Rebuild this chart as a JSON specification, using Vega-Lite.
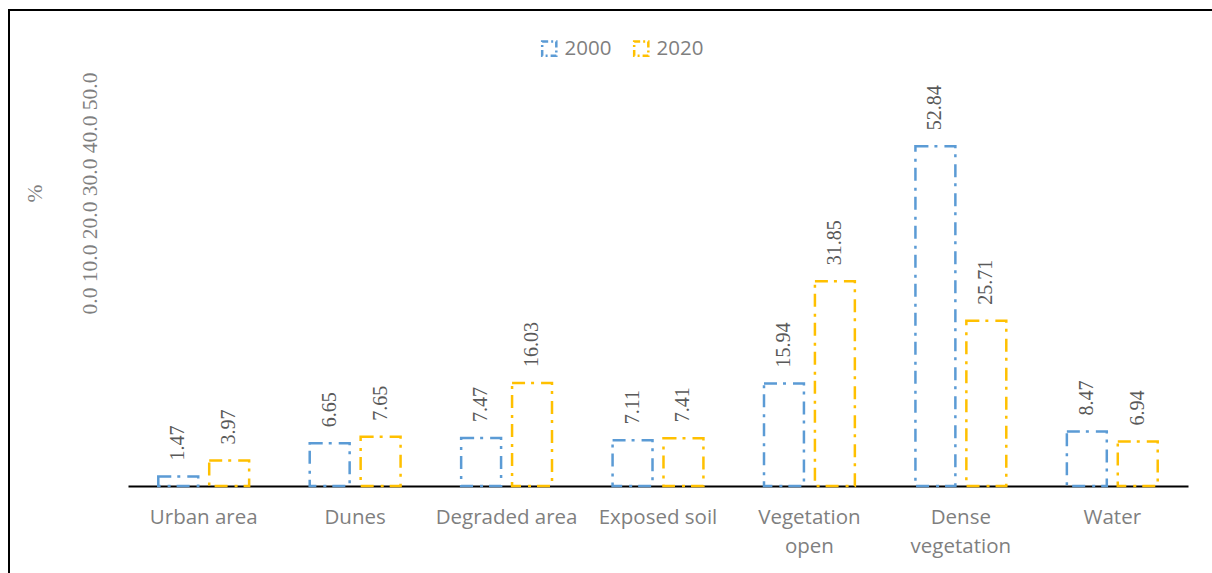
{
  "$schema": "https://vega.github.io/schema/vega-lite/v6.json",
  "width": 1215,
  "height": 575,
  "autosize": {"type": "none"},
  "padding": {"left": 9, "top": 10, "right": 0, "bottom": 0},
  "background": "white",
  "config": {"view": {"stroke": "black", "strokeWidth": 2}},
  "data": {
    "values": [
      {"category": "Urban area", "year": "2000", "value": 1.47},
      {"category": "Urban area", "year": "2020", "value": 3.97},
      {"category": "Dunes", "year": "2000", "value": 6.65},
      {"category": "Dunes", "year": "2020", "value": 7.65},
      {"category": "Degraded area", "year": "2000", "value": 7.47},
      {"category": "Degraded area", "year": "2020", "value": 16.03},
      {"category": "Exposed soil", "year": "2000", "value": 7.11},
      {"category": "Exposed soil", "year": "2020", "value": 7.41},
      {"category": "Vegetation open", "year": "2000", "value": 15.94},
      {"category": "Vegetation open", "year": "2020", "value": 31.85},
      {"category": "Dense vegetation", "year": "2000", "value": 52.84},
      {"category": "Dense vegetation", "year": "2020", "value": 25.71},
      {"category": "Water", "year": "2000", "value": 8.47},
      {"category": "Water", "year": "2020", "value": 6.94}
    ]
  },
  "encoding": {
    "x": {
      "field": "category",
      "type": "nominal",
      "sort": ["Urban area", "Dunes", "Degraded area", "Exposed soil", "Vegetation open", "Dense vegetation", "Water"],
      "scale": {"range": [119, 1179], "paddingInner": 0.4, "paddingOuter": 0.2},
      "axis": {
        "title": null,
        "orient": "bottom",
        "offset": -99,
        "domainColor": "black",
        "domainWidth": 2,
        "ticks": false,
        "grid": false,
        "labelAngle": 0,
        "labelFont": "Open Sans",
        "labelFontSize": 20.5,
        "labelColor": "#7f7f7f",
        "labelPadding": 21,
        "labelLineHeight": 29,
        "labelExpr": "datum.value == 'Vegetation open' ? ['Vegetation', 'open'] : datum.value == 'Dense vegetation' ? ['Dense', 'vegetation'] : datum.value"
      }
    },
    "xOffset": {"field": "year", "type": "nominal", "scale": {"paddingInner": 0.2157}},
    "y": {
      "field": "value",
      "type": "quantitative",
      "scale": {"domain": [0, 60], "range": [476, 90.2]},
      "axis": {
        "title": ["%", "0.0 10.0 20.0 30.0 40.0 50.0"],
        "labels": false,
        "ticks": false,
        "domain": false,
        "grid": false,
        "titleFont": "Liberation Serif",
        "titleFontSize": 21.5,
        "titleFontWeight": "normal",
        "titleColor": "#7f7f7f",
        "titleAngle": 270,
        "titleAlign": "center",
        "titleBaseline": "middle",
        "titleLineHeight": 55,
        "titleX": 26,
        "titleY": 183
      }
    },
    "color": {
      "field": "year",
      "type": "nominal",
      "scale": {"range": ["#5B9BD5", "#FFC000"]},
      "legend": {
        "title": null,
        "orient": "none",
        "legendX": 530,
        "legendY": 28,
        "direction": "horizontal",
        "symbolType": "square",
        "symbolSize": 200,
        "symbolStrokeWidth": 2.5,
        "symbolDash": [6, 3, 2, 3],
        "symbolFillColor": "transparent",
        "labelFont": "Open Sans",
        "labelFontSize": 20.5,
        "labelColor": "#7f7f7f",
        "labelOffset": 5,
        "columnPadding": 17,
        "padding": 0
      }
    }
  },
  "layer": [
    {"mark": {"type": "bar", "filled": false, "strokeWidth": 2.5, "strokeDash": [13, 6, 3, 7]}},
    {
      "mark": {"type": "text", "angle": 270, "align": "left", "baseline": "middle", "dx": 16, "font": "Liberation Serif", "fontSize": 20},
      "encoding": {
        "text": {"field": "value", "type": "quantitative", "format": ".2f"},
        "color": {"value": "#595959"}
      }
    }
  ]
}
